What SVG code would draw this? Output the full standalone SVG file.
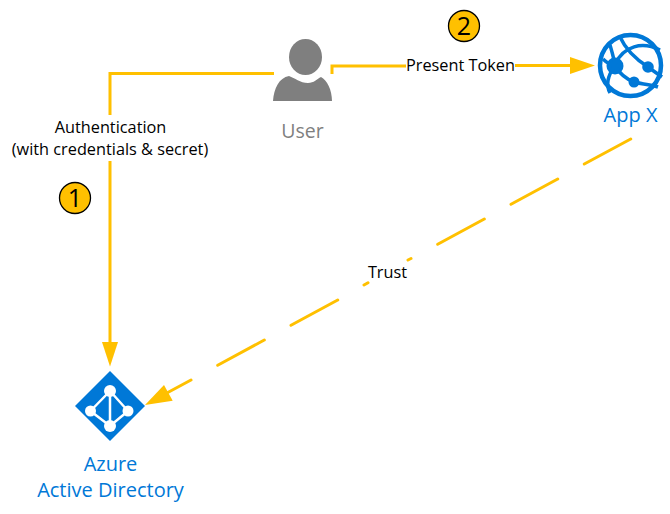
<svg xmlns="http://www.w3.org/2000/svg" width="670" height="514" viewBox="0 0 670 514">
<style>
text{font-family:"Open Sans","Noto Sans","Liberation Sans",sans-serif}
.c{fill:none;stroke:#FFC000;stroke-width:3}
.d{fill:none;stroke:#FFC000;stroke-width:3;stroke-linecap:round}
.h{fill:#FFC000}
.l{font-size:16.300px;fill:#000;text-anchor:middle}
.b{fill:#0078D7}
.n{font-size:20px;fill:#0078D7;text-anchor:middle}
.g{fill:none;stroke:#0078D7;stroke-width:3.500}
.w{fill:none;stroke:#fff;stroke-width:2.500}
.bd{fill:#FFC000;stroke:#000;stroke-width:1.300}
.bt{font-size:25px;fill:#000;text-anchor:middle}
</style>
<rect width="670" height="514" fill="#fff"/>
<g id="connectors">
<path class="c" d="M274 73.500H110V115M110 161V345"/>
<polygon class="h" points="102,342 118,342 110,366.500"/>
<path class="c" d="M332 74V66H406M515 65.500H572"/>
<polygon class="h" points="570,57 570,74 595,65.500"/>
<path class="d" d="M630.700 139L584.300 164M557.700 179L511 204.300M484.300 219L437.700 244.300M411 258.500L408 260M368 282.700L364 285M337.700 300L291 325.300M264.300 340L217.700 365.300M191 380L165 394"/>
<polygon class="h" points="145,405 164,385 172.700,400.700"/>
</g>
<g id="label-auth">
<text class="l" x="110.500" y="133">Authentication</text>
<text class="l" x="110" y="155">(with credentials &amp; secret)</text>
</g>
<text class="l" x="460.500" y="71">Present Token</text>
<text class="l" x="387.500" y="278">Trust</text>
<g id="badge-1"><circle class="bd" cx="75" cy="198" r="15.500"/><text class="bt" x="75" y="207">1</text></g>
<g id="badge-2"><circle class="bd" cx="464" cy="26" r="15.500"/><text class="bt" x="464" y="35">2</text></g>
<g id="user">
<ellipse cx="305.500" cy="57" rx="16.500" ry="18" fill="#7F7F7F"/>
<path fill="#7F7F7F" d="M273 101C274 88 279 78 289 76C295 78 300 83 308 83C314 83 317 79 321 77C327 80 332 90 332 101Z"/>
<text x="302.500" y="138" font-size="19.500" fill="#7F7F7F" text-anchor="middle">User</text>
</g>
<g id="app-x">
<circle cx="630.500" cy="65.500" r="30.500" fill="none" stroke="#0078D7" stroke-width="4.500"/>
<circle class="b" cx="615" cy="66" r="8.500"/>
<circle class="b" cx="648" cy="67" r="5.800"/>
<circle class="b" cx="634" cy="82" r="5.500"/>
<path class="g" d="M603 59C607 63 611 65 615 66M610 45C612 52 614 58 615 66M620 37C626 50 637 60 648 67L662 77M615 64C624 46 642 41 660 50M615 66C607 76 606 86 610 93M615 66C620 74 626 79 634 82C640 84 650 84 658 87"/>
<text class="n" x="630.500" y="122">App X</text>
</g>
<g id="azure-ad">
<polygon class="b" points="110,371 145,406 110,441 75,406"/>
<path class="w" d="M110 391L90.500 411L110 426L128 411ZM110 391V426"/>
<g fill="#fff"><circle cx="110" cy="391" r="6"/><circle cx="90.500" cy="411" r="5.500"/><circle cx="128" cy="411" r="5.500"/><circle cx="110" cy="426" r="6"/></g>
<text class="n" x="110.500" y="471">Azure</text>
<text class="n" x="110.500" y="497">Active Directory</text>
</g>
</svg>
